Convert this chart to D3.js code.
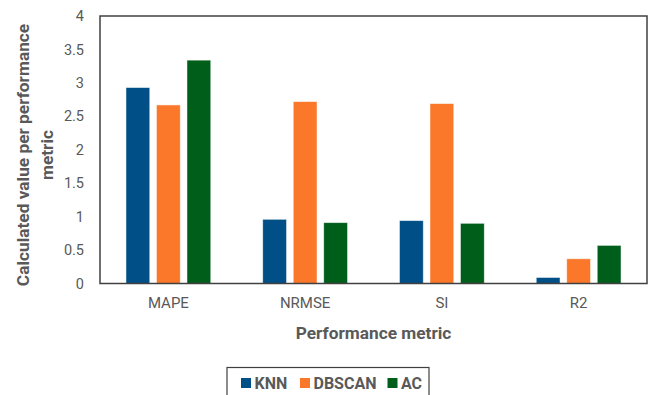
<!DOCTYPE html>
<html>
<head>
<meta charset="utf-8">
<script src="https://cdn.jsdelivr.net/npm/d3@7"></script>
<style>
  html, body { margin: 0; padding: 0; background: #fff; }
  svg { display: block; font-family: Roboto, "Open Sans", sans-serif; }
</style>
</head>
<body>
<svg id="chart" width="651" height="395"></svg>
<script>
// Performance metrics per clustering method
const categories = ["MAPE", "NRMSE", "SI", "R2"];
const seriesNames = ["KNN", "DBSCAN", "AC"];
const knn = [2.93, 0.96, 0.94, 0.09];
const dbscan = [2.67, 2.72, 2.69, 0.37];
const ac = [3.34, 0.91, 0.90, 0.57];
const yTicks = [0, 0.5, 1, 1.5, 2, 2.5, 3, 3.5, 4];
const colors = ["#004f86", "#fb782b", "#005e1b"];

const seriesValues = [knn, dbscan, ac];
const rows = categories.map((c, i) => ({
  category: c,
  values: seriesNames.map((s, j) => ({ series: s, value: seriesValues[j][i], color: colors[j] }))
}));

const svg = d3.select("#chart");
const plot = { left: 100, right: 647, top: 16, bottom: 283.5 };

const x0 = d3.scaleBand().domain(categories).range([plot.left, plot.right]).padding(0);
const x1 = d3.scaleBand().domain(seriesNames)
  .range([x0.bandwidth() * 0.19, x0.bandwidth() * 0.81]).paddingInner(0.22);
const y = d3.scaleLinear().domain([0, 4]).range([plot.bottom, plot.top]);

const textColor = "#595959";

// Bars
const groups = svg.append("g").selectAll("g").data(rows).join("g")
  .attr("transform", d => `translate(${x0(d.category)},0)`);
groups.selectAll("rect").data(d => d.values).join("rect")
  .attr("x", d => x1(d.series))
  .attr("y", d => y(d.value))
  .attr("width", x1.bandwidth())
  .attr("height", d => y(0) - y(d.value))
  .attr("fill", d => d.color)
  .attr("stroke", "#ffffff")
  .attr("stroke-opacity", 0.6)
  .attr("stroke-width", 0.8);

// Plot frame
svg.append("rect")
  .attr("x", plot.left).attr("y", plot.top)
  .attr("width", plot.right - plot.left).attr("height", plot.bottom - plot.top)
  .attr("fill", "none").attr("stroke", "#404040").attr("stroke-width", 1.5);

// Y axis labels
const yAxis = d3.axisLeft(y).tickValues(yTicks).tickSize(0).tickPadding(16)
  .tickFormat(d3.format("~g"));
const yg = svg.append("g").attr("transform", `translate(${plot.left},0)`).call(yAxis);
yg.select(".domain").remove();
yg.selectAll("text").attr("fill", textColor).style("font-size", "14.5px")
  .style("font-family", "Roboto, sans-serif");

// X axis labels
const xAxis = d3.axisBottom(x0).tickSize(0).tickPadding(14);
const xg = svg.append("g").attr("transform", `translate(0,${plot.bottom})`).call(xAxis);
xg.select(".domain").remove();
xg.selectAll("text").attr("fill", textColor).style("font-size", "15px")
  .style("font-family", "Roboto, sans-serif");

// Axis titles
svg.append("text")
  .attr("x", (plot.left + plot.right) / 2).attr("y", 339)
  .attr("text-anchor", "middle").attr("fill", textColor)
  .style("font-size", "17.3px").style("font-weight", "bold")
  .text("Performance metric");

const yTitle = svg.append("text")
  .attr("transform", "translate(0,155) rotate(-90)")
  .attr("text-anchor", "middle").attr("fill", textColor)
  .style("font-size", "17.3px").style("font-weight", "bold");
yTitle.append("tspan").attr("x", 0).attr("y", 29).text("Calculated value per performance");
yTitle.append("tspan").attr("x", 0).attr("y", 53).text("metric");

// Legend
const legend = svg.append("g");
legend.append("rect")
  .attr("x", 227).attr("y", 367.5).attr("width", 202).attr("height", 40)
  .attr("fill", "#fff").attr("stroke", "#404040").attr("stroke-width", 1.2);
const legendX = [241, 300, 387.5];
const items = legend.selectAll("g.item").data(seriesNames).join("g")
  .attr("class", "item")
  .attr("transform", (d, i) => `translate(${legendX[i]},383)`);
items.append("rect").attr("x", 0).attr("y", -5).attr("width", 10).attr("height", 10)
  .attr("fill", (d, i) => colors[i]);
items.append("text").attr("x", 13.5).attr("y", 0).attr("dy", "0.36em")
  .attr("fill", textColor).style("font-size", "16px").style("font-weight", "bold")
  .text(d => d);
</script>
</body>
</html>
